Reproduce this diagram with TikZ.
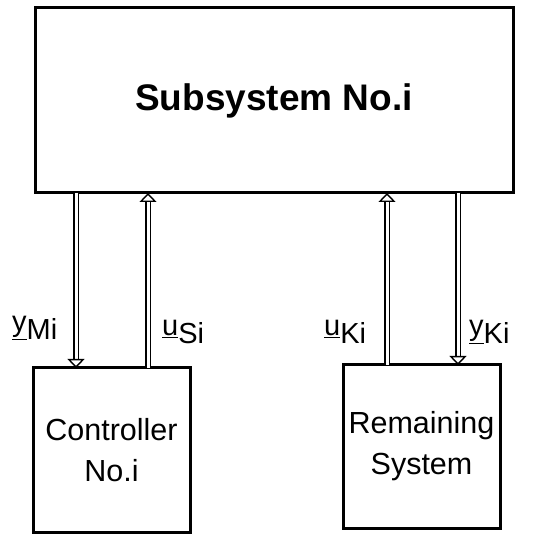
\documentclass[tikz,border=0pt]{standalone}
\usepackage{fontspec}
\setmainfont{Liberation Sans}
\usetikzlibrary{arrows.meta}
\begin{document}
\begin{tikzpicture}[x=1pt,y=-1pt,
  blk/.style={draw, line width=3pt, inner sep=0pt, outer sep=0pt},
  sig/.style={double, double distance=3pt, line width=1.4pt,
    -{Triangle[open, length=9pt, width=17pt, line width=1.4pt, fill=white]}},
  lbl/.style={font=\fontsize{29}{30}\selectfont, inner sep=0pt, anchor=base west}]
\useasboundingbox (0,0) rectangle (546,534);
\node[blk, minimum width=478pt, minimum height=185pt] (sub) at (274,100.5)
  {\fontsize{37}{40}\selectfont\bfseries Subsystem No.i};
\node[blk, minimum width=157pt, minimum height=164pt, align=center,
  font=\fontsize{30.5}{41}\selectfont] (ctl) at (111.5,450) {Controller\\ No.i};
\node[blk, minimum width=157pt, minimum height=163pt, align=center,
  font=\fontsize{30.5}{41}\selectfont] (rem) at (421.5,446.5) {Remaining\\System};
\coordinate (a1) at (76,0); \coordinate (a2) at (148,0);
\coordinate (a3) at (387,0); \coordinate (a4) at (458,0);
\draw[sig] (sub.south -| a1) -- (ctl.north -| a1);
\draw[sig] (ctl.north -| a2) -- (sub.south -| a2);
\draw[sig] (rem.north -| a3) -- (sub.south -| a3);
\draw[sig] (sub.south -| a4) -- (rem.north -| a4);
\node[lbl] (lym) at (12,340) {\raisebox{8pt}{\underline{y}}Mi};
\node[lbl] (lus) at (162,344) {\raisebox{8pt}{\underline{u}}Si};
\node[lbl] (luk) at (324,344) {\raisebox{8pt}{\underline{u}}Ki};
\node[lbl] (lyk) at (469,344) {\raisebox{8pt}{\underline{y}}Ki};
\end{tikzpicture}
\end{document}
